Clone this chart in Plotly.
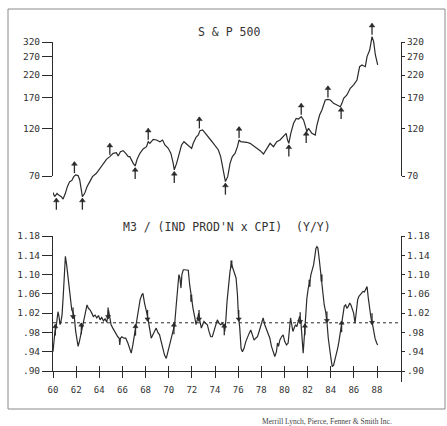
import math
import plotly.graph_objects as go

# ---------------- data ----------------
sp_year = [1960.00,1960.14,1960.35,1960.52,1960.72,1960.87,1961.07,1961.24,1961.44,1961.62,
           1961.79,1961.96,1962.17,1962.31,1962.45,1962.54,1962.74,1962.94,1963.18,1963.41,
           1963.75,1964.04,1964.33,1964.62,1964.91,1965.20,1965.48,1965.63,1965.83,1966.06,
           1966.29,1966.50,1966.64,1966.78,1966.93,1967.10,1967.27,1967.51,1967.79,1968.08,
           1968.23,1968.37,1968.66,1968.95,1969.24,1969.47,1969.67,1969.96,1970.19,1970.39,
           1970.48,1970.68,1970.91,1971.11,1971.32,1971.55,1971.78,1971.98,1972.12,1972.36,
           1972.56,1972.70,1972.93,1973.14,1973.42,1973.63,1973.86,1974.09,1974.29,1974.49,
           1974.72,1974.90,1975.10,1975.30,1975.50,1975.73,1975.94,1976.08,1976.22,1976.45,
           1976.74,1977.03,1977.32,1977.61,1977.90,1978.19,1978.39,1978.56,1978.76,1979.05,
           1979.34,1979.62,1979.92,1980.15,1980.27,1980.38,1980.55,1980.79,1981.02,1981.22,
           1981.45,1981.65,1981.82,1981.94,1982.08,1982.37,1982.66,1982.81,1983.04,1983.24,
           1983.53,1983.76,1983.96,1984.25,1984.54,1984.83,1984.97,1985.12,1985.40,1985.69,
           1985.98,1986.27,1986.50,1986.70,1986.99,1987.14,1987.37,1987.48,1987.57,1987.71,
           1987.86,1988.06]
sp_val = [58.0,55.4,57.5,56.2,55.4,53.9,57.5,62.0,65.7,66.4,
          69.5,70.8,70.3,66.9,59.7,55.4,57.5,62.0,65.7,69.5,
          72.2,76.4,80.8,84.6,87.2,90.5,91.2,87.8,92.3,93.3,
          90.5,87.2,87.2,83.9,80.8,78.4,84.6,90.5,95.1,97.6,
          103.3,101.4,106.1,105.3,103.3,105.3,99.5,95.8,90.5,80.8,
          75.0,80.8,90.5,99.5,103.3,100.7,97.6,95.8,101.4,108.5,
          111.4,117.1,118.0,113.6,109.3,105.3,101.4,97.6,94.0,87.2,
          75.0,65.7,69.5,80.8,87.2,90.5,97.6,105.3,103.3,103.3,
          102.6,101.4,98.8,95.8,93.3,89.8,94.0,97.6,101.4,97.6,
          103.3,105.3,109.3,113.6,105.3,101.4,113.6,127.2,134.6,133.6,
          137.2,132.2,122.5,115.7,120.2,113.6,111.4,124.8,139.8,148.0,
          165.8,167.0,165.8,159.6,156.7,153.7,159.6,168.9,175.4,189.3,
          196.6,208.0,241.9,246.6,241.9,271.0,292.3,317.7,340.1,321.3,
          276.2,246.6]

sp_peak_year = [1961.85,1964.91,1968.23,1972.65,1976.08,1981.45,1983.76,1987.57]
sp_peak_val = [70.8,87.2,103.3,117.5,105.3,137.2,167.0,340.1]
sp_trough_year = [1960.29,1962.54,1967.10,1970.48,1974.90,1980.38,1981.88,1984.90]
sp_trough_val = [55.4,55.4,78.4,75.0,65.7,101.4,118.0,155.0]

m3_year = [1960.00,1960.06,1960.17,1960.26,1960.35,1960.43,1960.52,1960.61,1960.69,1960.78,
           1960.89,1960.98,1961.07,1961.18,1961.33,1961.47,1961.62,1961.76,1961.85,1961.96,
           1962.08,1962.17,1962.28,1962.40,1962.51,1962.63,1962.74,1962.86,1962.94,1963.06,
           1963.20,1963.35,1963.49,1963.64,1963.78,1963.93,1964.07,1964.21,1964.36,1964.50,
           1964.65,1964.79,1964.91,1965.02,1965.17,1965.31,1965.46,1965.60,1965.72,1965.77,
           1965.83,1965.95,1966.12,1966.29,1966.47,1966.61,1966.76,1966.90,1967.04,1967.16,
           1967.27,1967.39,1967.53,1967.68,1967.77,1967.91,1968.05,1968.20,1968.34,1968.49,
           1968.63,1968.78,1968.92,1969.06,1969.21,1969.35,1969.50,1969.64,1969.79,1969.93,
           1970.08,1970.22,1970.36,1970.51,1970.65,1970.80,1970.88,1970.97,1971.06,1971.14,
           1971.26,1971.37,1971.55,1971.69,1971.81,1971.95,1972.10,1972.24,1972.36,1972.47,
           1972.59,1972.70,1972.82,1972.93,1973.05,1973.19,1973.34,1973.48,1973.63,1973.77,
           1973.91,1974.06,1974.20,1974.35,1974.49,1974.64,1974.78,1974.84,1974.93,1975.04,
           1975.18,1975.30,1975.42,1975.56,1975.70,1975.82,1975.94,1976.02,1976.14,1976.25,
           1976.37,1976.51,1976.66,1976.80,1976.95,1977.09,1977.23,1977.38,1977.52,1977.67,
           1977.81,1978.01,1978.16,1978.30,1978.45,1978.59,1978.74,1978.88,1979.02,1979.17,
           1979.31,1979.40,1979.49,1979.60,1979.75,1979.89,1980.03,1980.18,1980.32,1980.41,
           1980.53,1980.61,1980.73,1980.84,1980.96,1981.07,1981.19,1981.31,1981.42,1981.54,
           1981.62,1981.71,1981.82,1981.94,1982.06,1982.17,1982.29,1982.40,1982.52,1982.63,
           1982.72,1982.81,1982.89,1982.98,1983.09,1983.21,1983.33,1983.44,1983.56,1983.67,
           1983.79,1983.90,1984.02,1984.13,1984.25,1984.36,1984.48,1984.60,1984.71,1984.83,
           1984.94,1985.06,1985.17,1985.29,1985.40,1985.52,1985.64,1985.75,1985.87,1985.98,
           1986.10,1986.21,1986.33,1986.44,1986.56,1986.67,1986.79,1986.91,1987.02,1987.14,
           1987.25,1987.37,1987.48,1987.60,1987.71,1987.83,1987.97,1988.06]
m3_val = [0.940,0.961,0.982,0.989,1.010,1.023,1.013,0.996,1.003,1.016,
          1.058,1.107,1.138,1.120,1.086,1.051,1.027,1.020,1.010,0.982,
          0.958,0.951,0.961,0.975,0.985,0.996,1.010,1.027,1.037,1.030,
          1.027,1.020,1.013,1.016,1.010,1.015,1.006,1.011,1.004,1.008,
          1.001,1.027,1.006,0.996,0.989,0.982,0.975,0.971,0.968,0.954,
          0.968,0.971,0.968,0.968,0.958,0.947,0.937,0.954,0.975,0.996,
          1.016,1.034,1.048,1.058,1.061,1.041,1.027,1.010,0.989,0.968,
          0.975,0.982,0.989,0.980,0.975,0.961,0.947,0.933,0.926,0.940,
          0.954,0.968,0.978,0.996,1.037,1.086,1.100,1.093,1.072,1.100,
          1.110,1.110,1.109,1.109,1.079,1.051,1.030,1.013,0.996,1.006,
          1.020,1.003,0.989,0.996,1.003,0.999,0.996,0.982,0.971,0.971,
          0.982,0.996,1.006,0.999,0.996,0.999,0.992,0.982,1.003,1.044,
          1.086,1.107,1.122,1.113,1.100,1.093,1.058,1.016,0.989,0.947,
          0.940,0.947,0.961,0.971,0.978,0.985,0.975,0.964,0.968,0.971,
          0.982,0.996,1.010,0.996,0.985,0.975,0.968,0.951,0.940,0.930,
          0.940,0.958,0.951,0.964,0.971,0.975,0.961,0.954,0.958,0.989,
          1.010,0.999,0.982,0.989,0.996,0.992,1.003,1.013,1.003,0.961,
          0.937,0.968,1.010,1.051,1.072,1.082,1.100,1.110,1.120,1.138,
          1.154,1.158,1.155,1.138,1.113,1.093,1.065,1.037,1.023,1.003,
          0.968,0.940,0.926,0.909,0.912,0.923,0.933,0.947,0.961,0.982,
          0.996,1.016,1.034,1.037,1.030,1.034,1.041,1.037,1.030,1.020,
          0.999,1.023,1.048,1.055,1.058,1.061,1.065,1.064,1.068,1.075,
          1.051,1.027,1.010,0.999,0.982,0.968,0.958,0.954]

m3_up_year = [1960.20,1962.45,1967.13,1970.45,1974.80,1981.77,1984.94]
m3_up_val = [0.985,0.988,0.985,0.988,0.986,0.986,0.992]
m3_down_year = [1961.73,1964.76,1968.17,1972.62,1976.05,1981.36,1983.67,1987.57]
m3_down_val = [1.020,1.020,1.015,1.015,1.015,1.010,1.012,1.008]
m3_mark_year = [1971.95,1975.42,1982.17,1983.21]
m3_mark_val = [1.051,1.122,1.082,1.093]

BASELINE = 1.00
sp_ticks = [70, 120, 170, 220, 270, 320]
m3_ticks = [0.90, 0.94, 0.98, 1.02, 1.06, 1.10, 1.14, 1.18]
m3_ticktext = [".90", ".94", ".98", "1.02", "1.06", "1.10", "1.14", "1.18"]
year_ticks = list(range(1960, 1989, 2))
year_ticktext = [str(y)[2:] for y in year_ticks]

# ---------------- layout geometry ----------------
W, H = 447, 426
def px(p): return p / W
def py(p): return 1 - p / H

INK = "#2b2b2b"
MONO = "DejaVu Sans Mono"
L, R = 53, 401
ppy = (377 - 53) / 28.0
x_range = [1960, 1960 + (R - L) / ppy]

lo, hi = math.log10(70), math.log10(320)
s = (176 - 42) / (hi - lo)          # px per decade, top panel
TOP_PX, BOT_PX = 18, 215
top_data_range = [lo - (BOT_PX - 176) / s, hi + (42 - TOP_PX) / s]
m3_pp = (371 - 236) / (1.18 - 0.90)  # px per unit, bottom panel


def shift_log(vals, dpx):   # dpx > 0 moves up on screen
    return [v * 10 ** (dpx / s) for v in vals]


def shift_lin(vals, dpx):
    return [v + dpx / m3_pp for v in vals]


fig = go.Figure()


def add_arrows(xs, stem_y, head_y, head_symbol, yaxis, stem=9, head=5):
    fig.add_trace(go.Scatter(x=xs, y=stem_y, mode="markers", xaxis="x", yaxis=yaxis,
                             marker=dict(symbol="line-ns", size=stem, line=dict(color=INK, width=1.3)),
                             cliponaxis=False, hoverinfo="skip", showlegend=False))
    fig.add_trace(go.Scatter(x=xs, y=head_y, mode="markers", xaxis="x", yaxis=yaxis,
                             marker=dict(symbol=head_symbol, size=head, color=INK,
                                         line=dict(color=INK, width=0.5)),
                             cliponaxis=False, hoverinfo="skip", showlegend=False))


fig.add_trace(go.Scatter(x=sp_year, y=sp_val, mode="lines", xaxis="x", yaxis="y",
                         line=dict(color=INK, width=1.2), hoverinfo="skip", showlegend=False))
# peak arrows sit above the line, trough arrows below; both point up
add_arrows(sp_peak_year, shift_log(sp_peak_val, 7.5), shift_log(sp_peak_val, 11), "triangle-up", "y",
           stem=8, head=5)
add_arrows(sp_trough_year, shift_log(sp_trough_val, -7.5), shift_log(sp_trough_val, -4), "triangle-up", "y",
           stem=8, head=5)

fig.add_trace(go.Scatter(x=m3_year, y=m3_val, mode="lines", xaxis="x", yaxis="y2",
                         line=dict(color=INK, width=1.2), hoverinfo="skip", showlegend=False))
add_arrows(m3_up_year, m3_up_val, shift_lin(m3_up_val, 3.5), "triangle-up", "y2", stem=8, head=4.5)
add_arrows(m3_down_year, m3_down_val, shift_lin(m3_down_val, -3.5), "triangle-down", "y2", stem=8, head=4.5)
fig.add_trace(go.Scatter(x=m3_mark_year, y=m3_mark_val, mode="markers", xaxis="x", yaxis="y2",
                         marker=dict(symbol="line-ns", size=5, line=dict(color=INK, width=2)),
                         hoverinfo="skip", showlegend=False))

# empty traces so the pure-axis frames get drawn
for ya in ["y3", "y4", "y5"]:
    fig.add_trace(go.Scatter(x=[], y=[], mode="lines", xaxis="x", yaxis=ya,
                             hoverinfo="skip", showlegend=False))
fig.add_trace(go.Scatter(x=[], y=[], mode="lines", xaxis="x2", yaxis="y2",
                         hoverinfo="skip", showlegend=False))

tickfont = dict(family=MONO, size=9.5, color="#333")
common_y = dict(showgrid=False, zeroline=False, showline=True, linecolor=INK, linewidth=1,
                tickcolor=INK, tickfont=tickfont, tickmode="array", automargin=False)

fig.update_layout(
    width=W, height=H, margin=dict(l=0, r=0, t=0, b=0),
    paper_bgcolor="white", plot_bgcolor="rgba(0,0,0,0)",
    template="none", showlegend=False,
    xaxis=dict(domain=[px(L), px(R)], range=x_range, anchor="y2",
               tickmode="array", tickvals=year_ticks, ticktext=year_ticktext,
               ticks="outside", ticklen=6, tickcolor=INK, tickwidth=1,
               showline=True, linecolor=INK, linewidth=1, showgrid=False, zeroline=False,
               tickfont=dict(family=MONO, size=9, color="#333"), ticklabelstandoff=4,
               automargin=False),
    xaxis2=dict(overlaying="x", range=x_range, anchor="y2", tickmode="array",
                tickvals=year_ticks, ticks="inside", ticklen=5, tickcolor=INK,
                showticklabels=False, showline=False, showgrid=False, zeroline=False),
    yaxis=dict(domain=[py(BOT_PX), py(TOP_PX)], type="log", range=top_data_range,
               anchor="x", visible=False),
    yaxis3=dict(domain=[py(176), py(42)], type="log", range=[lo, hi], anchor="x", side="left",
                tickvals=sp_ticks, ticktext=[str(t) for t in sp_ticks],
                ticks="outside", ticklen=10, **common_y),
    yaxis4=dict(overlaying="y3", type="log", range=[lo, hi], anchor="x", side="right",
                tickvals=sp_ticks, ticktext=[str(t) for t in sp_ticks],
                ticks="outside", ticklen=3, **common_y),
    yaxis2=dict(domain=[py(371), py(236)], range=[0.90, 1.18], anchor="x", side="left",
                tickvals=m3_ticks, ticktext=m3_ticktext,
                ticks="outside", ticklen=10, **common_y),
    yaxis5=dict(domain=[py(382), py(236)], range=[0.90 - (382 - 371) / m3_pp, 1.18],
                anchor="x", side="right", tickvals=m3_ticks, ticktext=m3_ticktext,
                ticks="outside", ticklen=3, **common_y),
    shapes=[
        dict(type="line", xref="x domain", x0=0, x1=1, yref="y2", y0=BASELINE, y1=BASELINE,
             line=dict(color=INK, width=1, dash="3px,3px")),
        dict(type="rect", xref="paper", yref="paper", x0=px(8), x1=px(445), y0=py(409), y1=py(9),
             line=dict(color="#8a8a8a", width=1)),
    ],
    annotations=[
        dict(text="S & P 500", x=px(229), y=py(32), xref="paper", yref="paper",
             xanchor="center", yanchor="middle", showarrow=False,
             font=dict(family=MONO, size=11.5, color="#333")),
        dict(text="M3 / (IND PROD'N x CPI)  (Y/Y)", x=px(227), y=py(227), xref="paper", yref="paper",
             xanchor="center", yanchor="middle", showarrow=False,
             font=dict(family=MONO, size=11.5, color="#333")),
        dict(text="Merrill Lynch, Pierce, Fenner & Smith Inc.", x=px(327), y=py(421),
             xref="paper", yref="paper", xanchor="center", yanchor="middle", showarrow=False,
             font=dict(family="Liberation Serif", size=7.5, color="#444")),
    ],
)

fig.write_html("out.html")
